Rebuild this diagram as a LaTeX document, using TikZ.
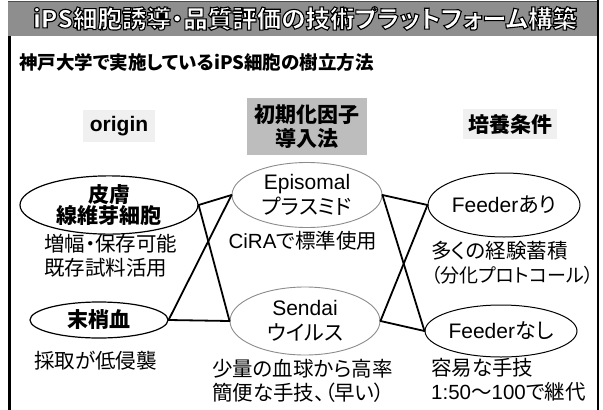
\documentclass[tikz,border=0pt]{standalone}
\usepackage{fontspec}
\setmainfont{Noto Sans CJK JP}[RawFeature=+palt]
\newfontfamily\lat{Liberation Sans}
\usetikzlibrary{shapes.geometric}
\newcommand\outltext[1]{\special{pdf:literal direct 2 Tr 1.1 w 0 G}#1\special{pdf:literal direct 0 Tr}}
\definecolor{bargray}{HTML}{8E8E8E}
\definecolor{boxgray}{HTML}{BDBDBD}
\definecolor{lightbg}{HTML}{F0F0F0}
\tikzset{
  body/.style={font=\fontsize{20.5}{24}\selectfont, align=left, inner sep=0pt},
  head/.style={font=\fontsize{21}{24}\selectfont\bfseries, align=center, inner sep=0pt},
  oval/.style={ellipse, inner xsep=0pt, inner ysep=-12pt, align=center},
  ovalblack/.style={oval, draw=black, line width=1.2pt},
  ovalgray/.style={oval, draw=black!45, line width=0.9pt},
  link/.style={draw=black, line width=1.8pt, line cap=round}
}
\begin{document}
\begin{tikzpicture}[x=1pt,y=-1pt]
\useasboundingbox (0,0) rectangle (603,410);
\fill[white] (0,0) rectangle (603,410);
% title bar and frame
\fill[bargray] (8,1) rectangle (598,36);
\draw[black!70, line width=0.8pt] (8,1) -- (598,1);
\draw[line width=2.5pt] (9.5,36) -- (9.5,410);
\draw[line width=2pt] (598,0) -- (598,410);
\node[font=\fontsize{24.5}{26}\selectfont\bfseries, text=white, inner sep=0pt] (title) at (305,18.5)
  {\outltext{iPS細胞誘導・品質評価の技術プラットフォーム構築}};
\node[font=\fontsize{18.5}{22}\selectfont\bfseries, anchor=west, inner sep=0pt] (sub) at (19,62)
  {神戸大学で実施しているiPS細胞の樹立方法};
% column heads
\node[head, fill=lightbg, minimum width=72pt, minimum height=32pt] (org) at (119,126) {\lat origin};
\node[head, fill=boxgray, minimum width=120pt, minimum height=57pt] (method) at (307,126.5) {初期化因子\\導入法};
\node[head, fill=lightbg, minimum width=94pt, minimum height=30pt] (culture) at (510,124) {培養条件};
% ellipses
\node[ovalblack, head, font=\fontsize{21}{20}\selectfont\bfseries, minimum width=178pt, minimum height=45pt] (skin) at (109,205) {皮膚\\線維芽細胞};
\node[ovalblack, head, minimum width=138pt, minimum height=36pt] (blood) at (99,320) {末梢血};
\node[ovalgray, body, align=center, font=\fontsize{21}{25}\selectfont, minimum width=150pt, minimum height=65pt] (epi) at (307,195) {{\lat Episomal}\\プラスミド};
\node[ovalgray, body, align=center, font=\fontsize{21}{25}\selectfont, minimum width=150pt, minimum height=68pt] (sendai) at (305,321) {{\lat Sendai}\\ウイルス};
\node[oval, draw=black, line width=1pt, body, font=\fontsize{21}{25}\selectfont, minimum width=152pt, minimum height=64pt] (fa) at (504,205) {{\lat Feeder}あり};
\node[oval, draw=black, line width=1pt, body, font=\fontsize{21}{25}\selectfont, minimum width=152pt, minimum height=52pt] (fn) at (501,331) {{\lat Feeder}なし};
% notes
\node[body, anchor=west] (n1) at (44,256) {増幅・保存可能\\既存試料活用};
\node[body, anchor=west] (n2) at (34,361) {採取が低侵襲};
\node[body] (n3) at (303,241) {{\lat CiRA}で標準使用};
\node[body, anchor=west] (n4) at (212,381) {少量の血球から高率\\簡便な手技、（早い）};
\node[body, anchor=west] (n5) at (431,263) {多くの経験蓄積\\{\fontsize{19}{24}\selectfont（分化プロトコール）}};
\node[body, anchor=west] (n6) at (431,380) {容易な手技\\{\lat 1:50}～{\lat 100}で継代};
% connectors
\draw[link] (skin.east) -- (epi.west);
\draw[link] (skin.east) -- (sendai.west);
\draw[link] (blood.east) -- (epi.west);
\draw[link] (blood.east) -- (sendai.west);
\draw[link] (epi.east) -- (fa.west);
\draw[link] (epi.east) -- (fn.west);
\draw[link] (sendai.east) -- (fa.west);
\draw[link] (sendai.east) -- (fn.west);
\end{tikzpicture}
\end{document}
